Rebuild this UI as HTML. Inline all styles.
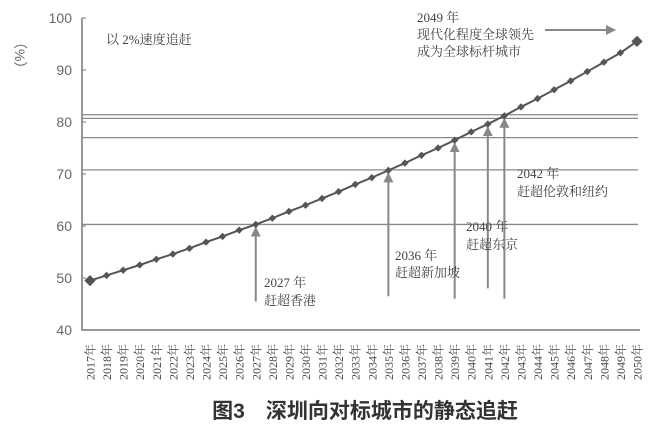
<!DOCTYPE html>
<html><head><meta charset="utf-8"><style>
body{margin:0;background:#fff}
svg{display:block}
text{font-family:"Liberation Serif","Noto Serif CJK SC",serif;fill:#444}
.ax{font-family:"Liberation Sans",sans-serif;fill:#666;font-size:14px}
</style></head><body>
<svg id="c" width="664" height="440" viewBox="0 0 664 440" xmlns="http://www.w3.org/2000/svg">
<defs><marker id="ah" viewBox="0 0 10 10" refX="9" refY="5" markerWidth="5" markerHeight="5" orient="auto-start-reverse"><path d="M0,0L10,5L0,10z" fill="#888"/></marker></defs>
<g id="grid"></g><g id="series"></g><g id="xlabels"></g>
<text x="20" y="40" class="ax" font-size="15" transform="rotate(90 20 35)">（%）</text>
<text x="106" y="44" font-size="13">以 2%速度追赶</text>
<text x="417" y="22" font-size="13">2049 年</text>
<text x="417" y="39" font-size="13">现代化程度全球领先</text>
<text x="417" y="56" font-size="13">成为全球标杆城市</text>
<line x1="545" y1="30" x2="615" y2="30" stroke="#888" stroke-width="2" marker-end="url(#ah)"/>
<text x="264" y="287" font-size="13">2027 年</text>
<text x="264" y="305" font-size="13">赶超香港</text>
<text x="395" y="260" font-size="13">2036 年</text>
<text x="395" y="277" font-size="13">赶超新加坡</text>
<text x="466" y="231" font-size="13">2040 年</text>
<text x="466" y="249" font-size="13">赶超东京</text>
<text x="517" y="178" font-size="13">2042 年</text>
<text x="517" y="196" font-size="13">赶超伦敦和纽约</text>
<text x="365" y="418" text-anchor="middle" font-size="21" font-weight="bold" style="font-family:'Liberation Sans','Noto Sans CJK SC',sans-serif;fill:#333">图3　深圳向对标城市的静态追赶</text>
</svg>
<script>
const years=["2017","2018","2019","2020","2021","2022","2023","2024","2025","2026","2027","2028","2029","2030","2031","2032","2033","2034","2035","2036","2037","2038","2039","2040","2041","2042","2043","2044","2045","2046","2047","2048","2049","2050"];
const values=[49.5,50.5,51.5,52.5,53.6,54.6,55.7,56.9,58.0,59.2,60.3,61.5,62.8,64.0,65.3,66.6,68.0,69.3,70.7,72.1,73.6,75.0,76.5,78.1,79.6,81.2,82.9,84.5,86.2,87.9,89.7,91.5,93.3,95.5];
const yTicks=[40,50,60,70,80,90,100];
const benchmarks=[60.3,70.8,77.0,80.7,81.4];
const arrowYears=["2027","2035","2039","2041","2042"];
const arrowBase=[45.5,46.5,46,48,46];
const NS="http://www.w3.org/2000/svg";
const svg=document.getElementById('c');
const x0=90,x1=637,yb=330,yt=18;
const xs=i=>x0+(x1-x0)*i/(years.length-1);
const ys=v=>yb-(v-40)/60*(yb-yt);
function mk(t,a,p){const e=document.createElementNS(NS,t);for(const k in a)e.setAttribute(k,a[k]);(p||svg).appendChild(e);return e;}
const g=document.getElementById('grid'),s=document.getElementById('series'),xl=document.getElementById('xlabels');
let ax=mk('path',{d:`M82,${yt}V${yb}H640`,stroke:'#777','stroke-width':1.5,fill:'none'},g);


yTicks.forEach(v=>{
 const t=mk('text',{x:72,y:ys(v)+5,'text-anchor':'end',class:'ax'},g);t.textContent=v;
 
 
 const tk=mk('line',{x1:82,x2:86,y1:ys(v),y2:ys(v),stroke:'#777'},g);
 
 
});
benchmarks.forEach(v=>{
 const l=mk('line',{x1:82,x2:638,y1:ys(v),y2:ys(v),stroke:'#8a8a8a','stroke-width':1.3},g);
 
 
});
arrowYears.forEach((y,k)=>{
 const i=years.indexOf(y);
 const a=mk('line',{x1:xs(i),x2:xs(i),y1:ys(arrowBase[k]),y2:ys(values[i])+3,stroke:'#888','stroke-width':2,'marker-end':'url(#ah)'},g);
 
 
});
const ln=mk('polyline',{points:values.map((v,i)=>xs(i)+','+ys(v)).join(' '),fill:'none',stroke:'#555','stroke-width':2},s);


values.forEach((v,i)=>{
 const r=(i==0||i==values.length-1)?4:2.6;
 const m=mk('rect',{x:xs(i)-r,y:ys(v)-r,width:2*r,height:2*r,fill:'#555',transform:`rotate(45 ${xs(i)} ${ys(v)})`},s);
 
 
});
years.forEach((y,i)=>{
 const t=mk('text',{x:0,y:0,'font-size':12,transform:`translate(${xs(i)+4.5},380) rotate(-90)`},xl);
 t.textContent=y+'年';
 
 
});
</script>
</body></html>
